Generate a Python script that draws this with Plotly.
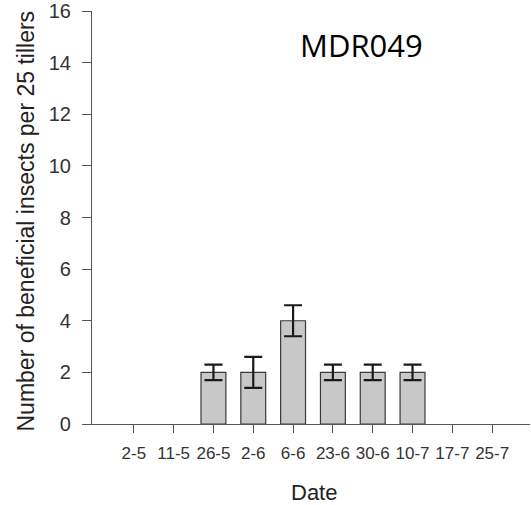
import plotly.graph_objects as go

dates = ["2-5", "11-5", "26-5", "2-6", "6-6", "23-6", "30-6", "10-7", "17-7", "25-7"]
means = [0, 0, 2, 2, 4, 2, 2, 2, 0, 0]
errors = [0, 0, 0.3, 0.6, 0.6, 0.3, 0.3, 0.3, 0, 0]
y_ticks = [0, 2, 4, 6, 8, 10, 12, 14, 16]

# dates with no insects show no bar and no error bar
plot_means = [m if m else None for m in means]
plot_errors = [e if m else None for m, e in zip(means, errors)]

fig = go.Figure()
fig.add_trace(go.Bar(
    x=list(range(len(dates))),
    y=plot_means,
    width=0.625,
    marker=dict(color="#c8c8c8", line=dict(color="#3a3a3a", width=1.2)),
    error_y=dict(type="data", array=plot_errors, visible=True, color="#1a1a1a",
                 thickness=2.2, width=9),
    showlegend=False,
))

axis_color = "#555555"
fig.update_layout(
    width=531, height=505,
    margin=dict(l=92, r=1, t=11, b=81),
    plot_bgcolor="white", paper_bgcolor="white",
    font=dict(family="Liberation Sans, Arial, sans-serif", color="#222222"),
    xaxis=dict(
        range=[-1.05, 9.95],
        tickmode="array",
        tickvals=list(range(len(dates))),
        ticktext=dates,
        ticks="outside", ticklen=8, tickwidth=1, tickcolor=axis_color,
        showline=True, linecolor=axis_color, linewidth=1.2,
        showgrid=False, zeroline=False,
        tickfont=dict(size=17, color="#333333"),
        ticklabelstandoff=5,
    ),
    yaxis=dict(
        range=[0, 16],
        tickmode="array",
        tickvals=y_ticks,
        ticks="outside", ticklen=9, tickwidth=1, tickcolor=axis_color,
        showline=True, linecolor=axis_color, linewidth=1.2,
        showgrid=False, zeroline=False,
        tickfont=dict(size=20, color="#333333"),
        ticklabelstandoff=7,
    ),
    annotations=[
        dict(text="MDR049", xref="paper", yref="paper", x=0.616, y=0.918,
             showarrow=False, xanchor="center", yanchor="middle",
             font=dict(family="Open Sans, Noto Sans, sans-serif", size=31, color="#000000")),
        dict(text="Number of beneficial insects per 25 tillers", xref="paper", yref="paper",
             x=(25 - 92) / 438, y=(424 - 221.5) / 413, textangle=-90, showarrow=False,
             xanchor="center", yanchor="middle",
             font=dict(size=23, color="#222222")),
        dict(text="Date", xref="paper", yref="paper", x=(314 - 92) / 438, y=(424 - 492) / 413,
             showarrow=False, xanchor="center", yanchor="middle",
             font=dict(size=22, color="#222222")),
    ],
)

fig.write_html("out.html")
